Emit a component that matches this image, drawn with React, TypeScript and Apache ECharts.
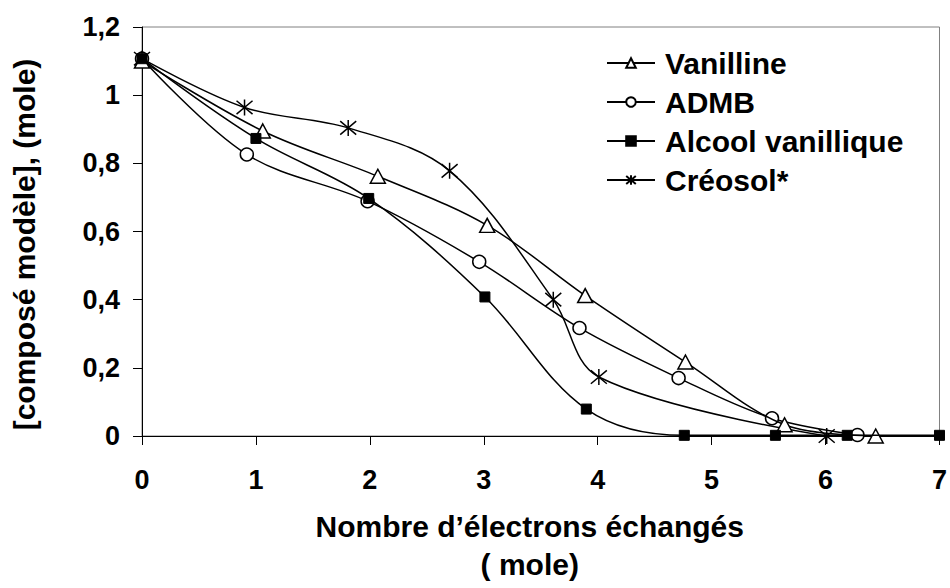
import React, { useEffect, useRef } from "react";
import * as echarts from "echarts";

const xTicks = [0, 1, 2, 3, 4, 5, 6, 7];
const yTicks = [0, 0.2, 0.4, 0.6, 0.8, 1, 1.2];

const seriesNames = ["Vanilline", "ADMB", "Alcool vanillique", "Créosol*"];

const vanillineX = [0, 1.06, 2.07, 3.03, 3.89, 4.77, 5.64, 6.44];
const vanillineY = [1.1, 0.895, 0.762, 0.618, 0.412, 0.217, 0.033, 0];

const admbX = [0, 0.92, 1.98, 2.96, 3.84, 4.71, 5.53, 6.28];
const admbY = [1.107, 0.826, 0.689, 0.511, 0.317, 0.17, 0.052, 0.003];

const alcoolX = [0, 1.0, 1.99, 3.01, 3.9, 4.76, 5.56, 6.19, 7.0];
const alcoolY = [1.107, 0.873, 0.697, 0.408, 0.079, 0.002, 0.002, 0.002, 0.002];

const creosolX = [0, 0.9, 1.81, 2.7, 3.61, 4.01, 6.01];
const creosolY = [1.107, 0.964, 0.904, 0.778, 0.4, 0.173, 0];

const FONT = "Liberation Sans, Arial, sans-serif";
const STAR = "path://M5,0L5,10M0.2,0.8L9.8,9.2M0.2,9.2L9.8,0.8";

function pairs(xs: number[], ys: number[]) {
  return xs.map((x, i) => [x, ys[i]]);
}

export default function App() {
  const ref = useRef<HTMLDivElement>(null);
  useEffect(() => {
    if (!ref.current) return;
    const chart = echarts.init(ref.current, undefined, { renderer: "svg" });
    const lineStyle = { color: "#000", width: 1.5 };
    const tick = { fontFamily: FONT, fontWeight: "bold", fontSize: 27, color: "#000" };
    const big = { fontFamily: FONT, fontWeight: "bold", fontSize: 30, color: "#000" };
    const option: any = {
      animation: false,
      backgroundColor: "#fff",
      grid: {
        left: 142,
        right: 10,
        top: 27,
        bottom: 142,
        show: true,
        borderColor: "#808080",
        borderWidth: 1,
        backgroundColor: "transparent",
      },
      legend: {
        orient: "vertical",
        left: 601,
        top: 42,
        itemWidth: 48,
        itemHeight: 12,
        itemGap: 7,
        data: seriesNames,
        textStyle: { ...big, lineHeight: 32, padding: [0, 0, 0, 5] },
      },
      xAxis: {
        type: "value",
        min: xTicks[0],
        max: xTicks[xTicks.length - 1],
        interval: 1,
        name: "Nombre d’électrons échangés\n( mole)",
        nameLocation: "middle",
        nameGap: 71,
        nameTextStyle: { ...big, lineHeight: 38, padding: [0, 22, 0, 0] },
        axisLine: { lineStyle: { color: "#000", width: 1 } },
        axisTick: { show: true, inside: false, length: 9, lineStyle: { color: "#000" } },
        splitLine: { show: false },
        axisLabel: { ...tick, margin: 30 },
      },
      yAxis: {
        type: "value",
        min: yTicks[0],
        max: yTicks[yTicks.length - 1],
        interval: 0.2,
        name: "[composé modèle], (mole)",
        nameLocation: "middle",
        nameGap: 103,
        nameTextStyle: { ...big, padding: [0, 26, 0, 0] },
        axisLine: { show: true, lineStyle: { color: "#000", width: 1 } },
        axisTick: { show: true, inside: false, length: 9, lineStyle: { color: "#000" } },
        splitLine: { show: false },
        axisLabel: {
          ...tick,
          margin: 22,
          formatter: (v: number) => String(Math.round(v * 10) / 10).replace(".", ","),
        },
      },
      series: [
        {
          name: seriesNames[0],
          type: "line",
          smooth: 0.35,
          data: pairs(vanillineX, vanillineY),
          symbol: "triangle",
          symbolSize: [15, 14],
          lineStyle,
          itemStyle: { color: "#fff", borderColor: "#000", borderWidth: 1.5 },
          z: 4,
        },
        {
          name: seriesNames[1],
          type: "line",
          smooth: 0.35,
          data: pairs(admbX, admbY),
          symbol: "circle",
          symbolSize: 13,
          lineStyle,
          itemStyle: { color: "#fff", borderColor: "#000", borderWidth: 1.5 },
          z: 3,
        },
        {
          name: seriesNames[2],
          type: "line",
          smooth: 0.35,
          data: pairs(alcoolX, alcoolY),
          symbol: "rect",
          symbolSize: 10,
          lineStyle,
          itemStyle: { color: "#000", borderColor: "#000", borderWidth: 1 },
          z: 5,
        },
        {
          name: seriesNames[3],
          type: "line",
          smooth: 0.35,
          data: pairs(creosolX, creosolY),
          symbol: STAR,
          symbolSize: 16,
          lineStyle,
          itemStyle: { color: "#000", borderColor: "#000", borderWidth: 1.5 },
          z: 2,
        },
      ],
    };
    chart.setOption(option);
    return () => chart.dispose();
  }, []);
  return (
    <div
      ref={ref}
      style={{ position: "fixed", left: 0, top: 0, width: 950, height: 588, background: "#fff" }}
    />
  );
}
